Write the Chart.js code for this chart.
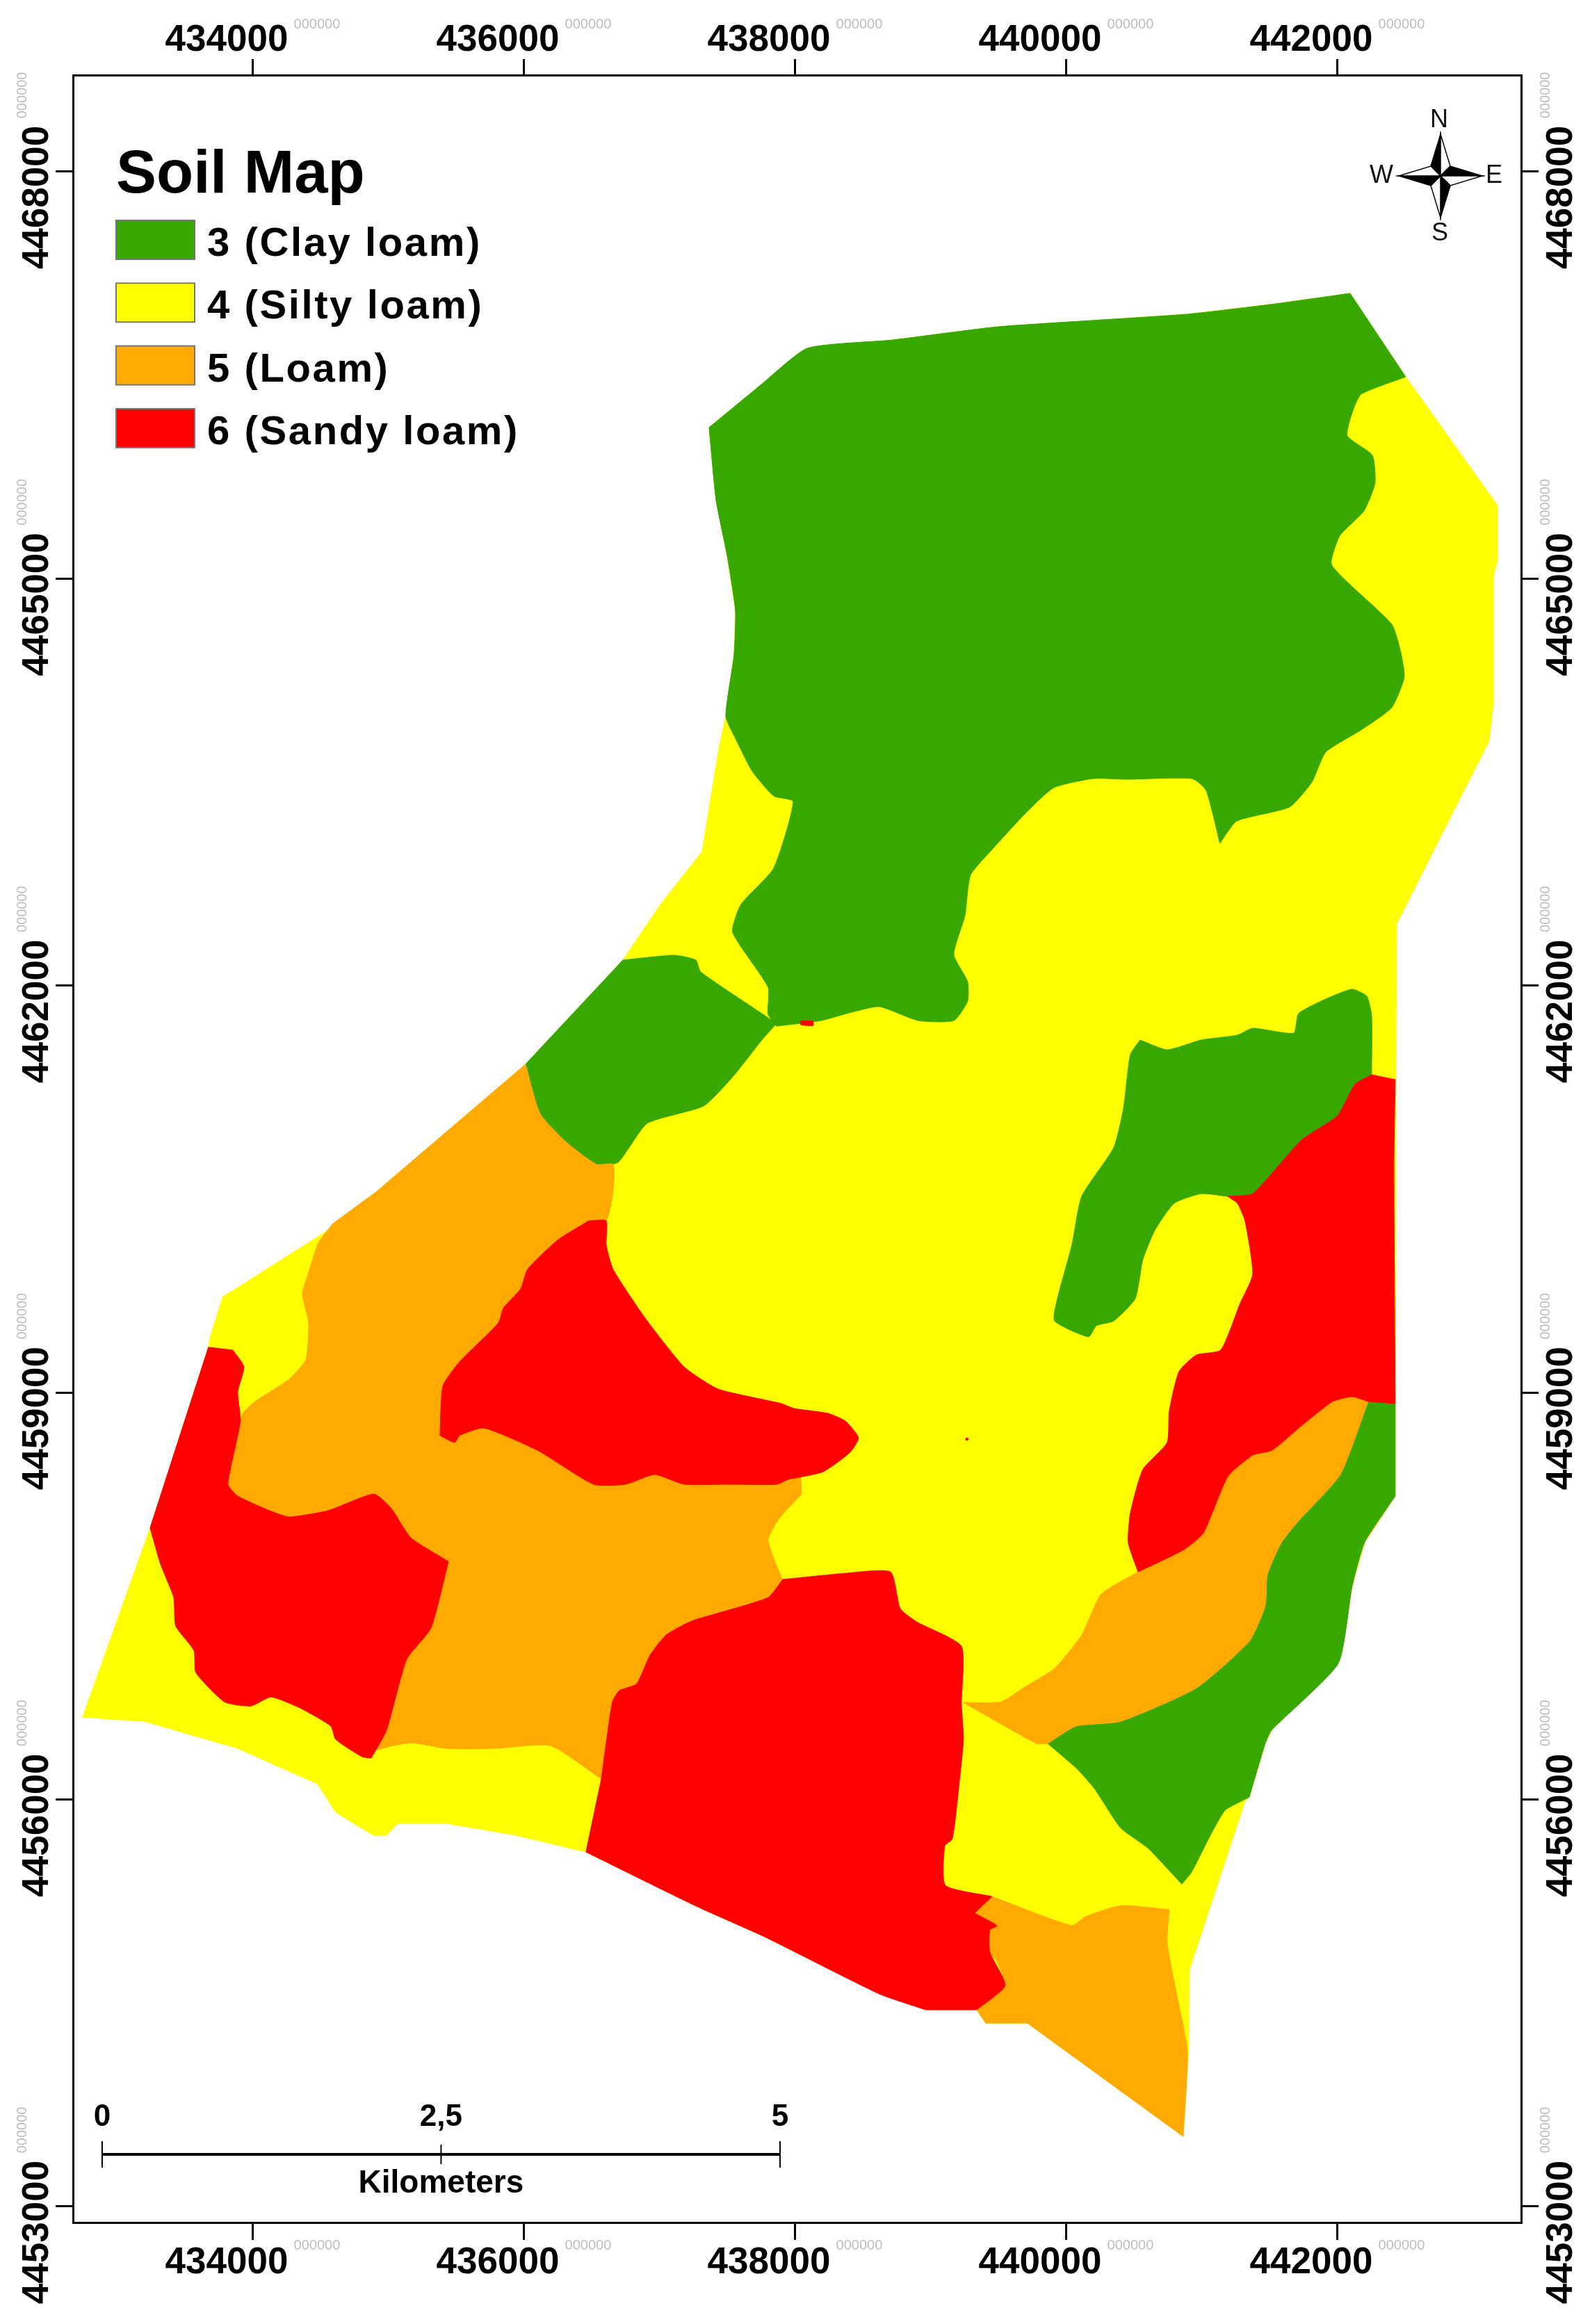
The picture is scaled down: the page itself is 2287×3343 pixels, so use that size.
<!DOCTYPE html>
<html>
<head>
<meta charset="utf-8">
<title>Soil Map</title>
<script src="https://cdn.jsdelivr.net/npm/chart.js@4/dist/chart.umd.js"></script>
<style>
    html, body { margin: 0; padding: 0; background: #fff; }
    #wrap { width: 2287px; height: 3343px; position: relative; }
</style>
</head>
<body>
<div id="wrap"><canvas id="soilMap" width="2287" height="3343"></canvas></div>
<script>
// Soil classes
const soilLabels = ['3 (Clay loam)', '4 (Silty loam)', '5 (Loam)', '6 (Sandy loam)'];
const soilColors = ['#38A800', '#FFFF00', '#FFAA00', '#FF0000'];

// Axis ticks (UTM metres)
const eastingTicks = [434000, 436000, 438000, 440000, 442000];
const northingTicks = [4453000, 4456000, 4459000, 4462000, 4465000, 4468000];
const eastingRange = [432672, 443354];
const northingRange = [4452882, 4468712];
const tickSuffix = '000000';

// Scale bar
const scaleBarKm = [0, 2.5, 5];
const scaleBarLabels = ['0', '2,5', '5'];
const scaleBarStart = 432887;

// Zone outlines, [easting, northing]
const studyArea = [[442092,4467103],[442502,4466488],[443179,4465540],[443179,4465130],[443148,4465012],[443148,4464069],[443117,4463803],[442435,4462455],[442430,4461312],[442425,4458934],[442425,4458237],[442199,4457894],[442107,4457571],[442004,4457002],[441512,4456510],[441466,4456413],[441348,4456018],[441317,4455987],[441122,4455398],[440907,4454747],[440902,4454158],[440861,4453517],[439712,4454352],[439405,4454352],[439338,4454450],[438963,4454450],[438620,4454567],[437774,4454988],[437261,4455218],[436456,4455613],[435917,4455741],[435425,4455823],[435066,4455823],[434984,4455736],[434887,4455736],[434610,4455905],[434476,4456115],[433887,4456377],[433200,4456576],[432743,4456607],[433241,4458001],[433671,4459334],[433687,4459421],[433779,4459708],[433871,4459764],[434518,4460174],[434912,4460482],[436010,4461420],[436728,4462188],[437005,4462598],[437312,4462988],[437435,4463741],[437487,4463987],[437548,4464438],[437558,4464766],[437497,4465171],[437415,4465581],[437364,4466114],[437738,4466422],[438087,4466698],[438722,4466760],[439497,4466857],[440887,4466949],[441543,4467026]];

const clayNorth = [[442092,4467103],[442502,4466488],[442174,4466360],[442112,4466237],[442071,4466053],[442256,4465909],[442276,4465704],[442194,4465499],[442015,4465315],[441953,4465110],[442076,4464971],[442399,4464664],[442461,4464479],[442492,4464274],[442399,4464049],[442174,4463885],[441912,4463721],[441810,4463500],[441645,4463316],[441256,4463213],[441132,4463049],[441030,4463439],[440927,4463526],[440440,4463521],[440194,4463526],[439907,4463459],[439702,4463275],[439456,4463008],[439292,4462814],[439251,4462516],[439169,4462229],[439271,4462029],[439271,4461886],[439169,4461742],[438907,4461742],[438620,4461845],[438415,4461804],[438189,4461742],[437861,4461701],[437799,4461789],[437799,4461988],[437538,4462393],[437599,4462598],[437840,4462865],[437984,4463357],[437840,4463398],[437681,4463582],[437558,4463823],[437487,4463987],[437548,4464438],[437558,4464766],[437497,4465171],[437415,4465581],[437364,4466114],[437738,4466422],[438087,4466698],[438722,4466760],[439497,4466857],[440887,4466949],[441543,4467026]];

const clayWest = [[436728,4462188],[437107,4462224],[437266,4462188],[437302,4462101],[437753,4461794],[437861,4461720],[437753,4461599],[437538,4461327],[437323,4461112],[436907,4460984],[436692,4460697],[436533,4460682],[436317,4460840],[436117,4461056],[436010,4461420]];

const clayEast = [[440543,4461599],[440743,4461527],[440994,4461599],[441261,4461635],[441374,4461686],[441676,4461650],[441712,4461794],[441912,4461901],[442107,4461973],[442215,4461922],[442251,4461778],[442251,4461343],[442127,4461271],[441999,4461040],[441733,4460861],[441374,4460466],[441189,4460446],[440994,4460466],[440794,4460395],[440651,4460195],[440563,4459979],[440507,4459692],[440348,4459528],[440220,4459493],[440163,4459411],[439912,4459528],[439933,4459692],[440040,4460087],[440112,4460446],[440348,4460805],[440420,4461092],[440471,4461491]];

const claySouth = [[442225,4458934],[442425,4458919],[442425,4458237],[442199,4457894],[442107,4457571],[442004,4457002],[441512,4456510],[441466,4456413],[441348,4456018],[441317,4456002],[441169,4455920],[441056,4455726],[440922,4455464],[440851,4455377],[440727,4455510],[440599,4455644],[440399,4455792],[440204,4456084],[440071,4456233],[439861,4456413],[440071,4456541],[440399,4456576],[440958,4456822],[441348,4457166],[441466,4457427],[441481,4457653],[441579,4457883],[441697,4458037],[442020,4458396]];

const loamWest = [[436010,4461420],[436117,4461056],[436317,4460840],[436533,4460682],[436656,4460682],[436656,4460482],[436605,4460266],[436476,4460266],[436246,4460123],[436025,4459908],[435974,4459764],[435846,4459621],[435810,4459513],[435523,4459226],[435400,4459047],[435379,4458683],[435487,4458632],[435523,4458683],[435702,4458739],[436097,4458575],[436512,4458324],[436748,4458324],[436964,4458396],[437179,4458324],[437502,4458324],[437861,4458324],[438040,4458380],[438046,4458252],[437882,4458073],[437799,4457914],[437897,4457637],[437907,4457622],[437799,4457489],[437261,4457325],[437189,4457294],[437046,4457212],[436928,4457063],[436830,4456853],[436702,4456802],[436651,4456720],[436569,4456151],[436194,4456397],[435784,4456377],[435425,4456377],[435164,4456418],[434902,4456361],[434871,4456305],[434984,4456510],[435133,4457033],[435312,4457263],[435441,4457755],[435164,4457929],[435020,4458145],[434892,4458252],[434553,4458129],[434266,4458083],[434123,4458129],[433887,4458237],[433815,4458324],[433907,4458790],[433923,4458847],[434015,4458934],[434266,4459098],[434389,4459241],[434410,4459513],[434364,4459728],[434410,4459887],[434482,4460102],[434589,4460246],[434912,4460482]];

const loamStrip = [[442225,4458934],[442107,4458970],[441963,4458934],[441733,4458755],[441517,4458575],[441374,4458539],[441189,4458380],[441010,4457965],[440866,4457842],[440528,4457678],[440256,4457514],[440112,4457212],[439912,4456966],[439681,4456822],[439517,4456720],[439240,4456715],[439779,4456413],[439861,4456413],[440071,4456541],[440399,4456576],[440958,4456822],[441348,4457166],[441466,4457427],[441481,4457653],[441579,4457883],[441697,4458037],[442020,4458396]];

const loamSouth = [[439451,4455285],[440040,4455070],[440138,4455136],[440399,4455218],[440758,4455188],[440743,4454942],[440809,4454583],[440892,4454142],[440861,4453517],[439712,4454352],[439405,4454352],[439338,4454450],[439548,4454629],[439487,4454808],[439435,4454875],[439435,4455039],[439487,4455070],[439322,4455162]];

const sandyEast = [[442251,4461343],[442425,4461307],[442415,4460661],[442425,4458919],[442225,4458934],[442107,4458970],[441963,4458934],[441733,4458755],[441517,4458575],[441374,4458539],[441189,4458380],[441010,4457965],[440866,4457842],[440528,4457678],[440456,4457894],[440471,4458109],[440563,4458432],[440743,4458632],[440758,4458862],[440830,4459154],[440958,4459277],[441138,4459313],[441281,4459657],[441374,4459872],[441317,4460267],[441261,4460395],[441189,4460446],[441374,4460466],[441733,4460861],[441999,4461040],[442127,4461271]];

const sandySouth = [[437907,4457622],[438374,4457668],[438702,4457678],[438774,4457407],[438897,4457309],[439225,4457130],[439225,4456705],[439240,4456443],[439205,4456084],[439158,4455710],[439102,4455659],[439107,4455367],[439451,4455285],[439322,4455162],[439487,4455070],[439435,4455039],[439435,4454875],[439548,4454629],[439338,4454450],[438963,4454450],[438620,4454567],[437774,4454988],[437261,4455218],[436456,4455613],[436569,4456151],[436651,4456720],[436702,4456802],[436830,4456853],[436928,4457063],[437046,4457212],[437189,4457294],[437261,4457325],[437799,4457489]];

const sandyWest = [[433671,4459334],[433851,4459313],[433933,4459190],[433887,4459006],[433907,4458790],[433815,4458324],[433887,4458237],[434123,4458129],[434266,4458083],[434553,4458129],[434892,4458252],[435020,4458145],[435164,4457929],[435441,4457755],[435312,4457263],[435133,4457033],[434984,4456510],[434871,4456305],[434805,4456315],[434610,4456443],[434574,4456541],[434348,4456674],[434133,4456756],[433984,4456689],[433789,4456720],[433579,4456935],[433564,4457099],[433430,4457279],[433415,4457489],[433318,4457735],[433241,4458001]];

const sandyMiddle = [[436476,4460266],[436605,4460266],[436605,4460087],[436656,4459908],[436892,4459549],[437179,4459190],[437430,4459026],[437897,4458919],[437989,4458883],[438240,4458847],[438369,4458790],[438466,4458667],[438404,4458560],[438205,4458416],[437953,4458360],[437861,4458324],[437502,4458324],[437179,4458324],[436964,4458396],[436748,4458324],[436512,4458324],[436097,4458575],[435702,4458739],[435523,4458683],[435487,4458632],[435379,4458683],[435400,4459047],[435523,4459226],[435810,4459513],[435846,4459621],[435974,4459764],[436025,4459908],[436246,4460123]];

const sandySpeckNorth = [[438040,4461738],[438130,4461738],[438130,4461705],[438040,4461712]];
const sandySpeckCentre = [[439258,4458665],[439274,4458665],[439274,4458649],[439258,4458649]];

// Outline and the class index it is filled with, bottom layer first
const zoneOutlines = [studyArea, clayNorth, clayWest, clayEast, claySouth, loamWest, loamStrip, loamSouth, sandyEast, sandySouth, sandyWest, sandyMiddle, sandySpeckNorth, sandySpeckCentre];
const zoneClasses = [1, 0, 0, 0, 0, 2, 2, 2, 3, 3, 3, 3, 3, 3];

// Vertices where the boundary turns sharply and must not be rounded
const sharpVertices = ['442092,4467103', '442502,4466488', '437364,4466114', '437738,4466422', '441132,4463049', '437861,4461701', '437861,4461720', '436010,4461420', '436728,4462188', '442251,4461343', '442425,4461307', '442425,4458919', '442225,4458934', '442425,4458237', '441348,4456018', '441317,4456002', '440851,4455377', '439861,4456413', '439240,4456715', '440528,4457678', '441189,4460446', '440861,4453517', '439712,4454352', '439405,4454352', '439338,4454450', '439451,4455285', '439322,4455162', '438963,4454450', '436456,4455613', '437907,4457622', '436569,4456151', '434871,4456305', '433241,4458001', '433671,4459334', '433851,4459313', '434589,4460246', '434912,4460482', '435441,4457755', '435379,4458683', '438046,4458252', '438040,4458380', '440758,4455188'];

const FONT = '"Liberation Sans", Arial, sans-serif';

// A doubled vertex gets no curve through it
function withSharpCorners(outline) {
    const closed = outline.concat([outline[0]]);
    const points = [];
    closed.forEach(p => {
        points.push({ x: p[0], y: p[1] });
        if (sharpVertices.includes(p.join(','))) {
            points.push({ x: p[0], y: p[1] });
        }
    });
    return points;
}

// The frame stays put whatever the labels measure
function fixSize(prop, size) {
    return (scale) => { scale[prop] = size; };
}

function setTicks(values) {
    return (scale) => { scale.ticks = values.map(v => ({ value: v })); };
}

function axisOptions(position, range, values, size, tickLength, ticks) {
    return {
        type: 'linear',
        position: position,
        min: range[0],
        max: range[1],
        afterBuildTicks: setTicks(values),
        afterFit: fixSize(position === 'top' || position === 'bottom' ? 'height' : 'width', size),
        border: { display: true, color: '#000', width: 3 },
        grid: { drawOnChartArea: false, drawTicks: true, tickLength: tickLength, tickColor: '#000', lineWidth: 3 },
        ticks: Object.assign({
            autoSkip: false,
            color: '#000',
            font: { family: FONT, size: 53, weight: 'bold' },
            callback: v => String(v)
        }, ticks)
    };
}

// The faint suffix printed next to every coordinate label
const tickSuffixPlugin = {
    id: 'tickSuffix',
    afterDraw(chart) {
        const ctx = chart.ctx;
        const s = chart.scales;
        ctx.save();
        ctx.font = '20px ' + FONT;
        ctx.fillStyle = '#bdbdbd';
        ctx.textAlign = 'center';
        ctx.textBaseline = 'middle';
        eastingTicks.forEach(v => {
            const x = s.x.getPixelForValue(v) + 92;
            ctx.fillText(tickSuffix, x, 35);
            ctx.fillText(tickSuffix, x, 3230);
        });
        northingTicks.forEach(v => {
            const y = s.y.getPixelForValue(v) - 110;
            [32, 2223].forEach(x => {
                ctx.save();
                ctx.translate(x, y);
                ctx.rotate(-Math.PI / 2);
                ctx.fillText(tickSuffix, 0, 0);
                ctx.restore();
            });
        });
        ctx.restore();
    }
};

const soilLegendPlugin = {
    id: 'soilLegend',
    afterDraw(chart) {
        const ctx = chart.ctx;
        ctx.save();
        ctx.fillStyle = '#000';
        ctx.textAlign = 'left';
        ctx.textBaseline = 'alphabetic';
        ctx.font = 'bold 87px ' + FONT;
        ctx.fillText('Soil Map', 167, 277);
        ctx.font = 'bold 58px ' + FONT;
        ctx.letterSpacing = '2.6px';
        soilLabels.forEach((label, i) => {
            const top = 317 + i * 90.3;
            ctx.fillStyle = soilColors[i];
            ctx.fillRect(167, top, 113, 56);
            ctx.strokeStyle = '#777';
            ctx.lineWidth = 2;
            ctx.strokeRect(167, top, 113, 56);
            ctx.fillStyle = '#000';
            ctx.fillText(label, 298, top + 51);
        });
        ctx.restore();
    }
};

const scaleBarPlugin = {
    id: 'scaleBar',
    afterDraw(chart) {
        const ctx = chart.ctx;
        const xAt = km => chart.scales.x.getPixelForValue(scaleBarStart + km * 1000);
        const y = 3099;
        ctx.save();
        ctx.strokeStyle = '#000';
        ctx.lineWidth = 4;
        ctx.beginPath();
        ctx.moveTo(xAt(scaleBarKm[0]), y);
        ctx.lineTo(xAt(scaleBarKm[2]), y);
        ctx.stroke();
        ctx.lineWidth = 2;
        ctx.fillStyle = '#000';
        ctx.textAlign = 'center';
        ctx.textBaseline = 'middle';
        ctx.font = 'bold 44px ' + FONT;
        scaleBarKm.forEach((km, i) => {
            const half = i === 1 ? 14 : 19;
            ctx.beginPath();
            ctx.moveTo(xAt(km), y - half);
            ctx.lineTo(xAt(km), y + half);
            ctx.stroke();
            ctx.fillText(scaleBarLabels[i], xAt(km), 3046);
        });
        ctx.font = 'bold 46px ' + FONT;
        ctx.fillText('Kilometers', xAt(scaleBarKm[1]), 3141);
        ctx.restore();
    }
};

const compassPlugin = {
    id: 'compass',
    afterDraw(chart) {
        const ctx = chart.ctx;
        const cx = 2072;
        const cy = 253;
        const tip = 60;
        const waist = 14;
        ctx.save();
        ctx.translate(cx, cy);
        ctx.lineWidth = 1.5;
        ctx.strokeStyle = '#000';
        for (let i = 0; i < 4; i++) {
            ctx.save();
            ctx.rotate(i * Math.PI / 2);
            // dark half
            ctx.fillStyle = '#000';
            ctx.beginPath();
            ctx.moveTo(0, 0);
            ctx.lineTo(0, -tip);
            ctx.lineTo(-waist, -waist);
            ctx.closePath();
            ctx.fill();
            ctx.stroke();
            // light half
            ctx.fillStyle = '#fff';
            ctx.beginPath();
            ctx.moveTo(0, 0);
            ctx.lineTo(0, -tip);
            ctx.lineTo(waist, -waist);
            ctx.closePath();
            ctx.fill();
            ctx.stroke();
            ctx.restore();
        }
        ctx.restore();
        ctx.save();
        ctx.fillStyle = '#111';
        ctx.font = '36px ' + FONT;
        ctx.textAlign = 'center';
        ctx.textBaseline = 'middle';
        ctx.fillText('N', 2070, 173);
        ctx.fillText('S', 2071, 336);
        ctx.fillText('W', 1987, 253);
        ctx.fillText('E', 2149, 253);
        ctx.restore();
    }
};

const datasets = zoneOutlines.map((outline, i) => ({
    label: soilLabels[zoneClasses[i]],
    data: withSharpCorners(outline),
    showLine: true,
    fill: 'shape',
    // Zone edges are soft in the map, the study area keeps its corners
    tension: i === 0 ? 0 : 0.18,
    pointRadius: 0,
    borderWidth: 1,
    borderColor: soilColors[zoneClasses[i]],
    backgroundColor: soilColors[zoneClasses[i]],
    order: zoneOutlines.length - i
}));

new Chart(document.getElementById('soilMap').getContext('2d'), {
    type: 'scatter',
    data: { datasets: datasets },
    plugins: [tickSuffixPlugin, soilLegendPlugin, scaleBarPlugin, compassPlugin],
    options: {
        responsive: false,
        animation: false,
        events: [],
        layout: { padding: 0 },
        plugins: {
            legend: { display: false },
            title: { display: false },
            tooltip: { enabled: false }
        },
        scales: {
            x: axisOptions('bottom', eastingRange, eastingTicks, 146, 25, { labelOffset: -38, padding: 2, maxRotation: 0 }),
            xTop: axisOptions('top', eastingRange, eastingTicks, 108, 23, { labelOffset: -38, padding: -5, maxRotation: 0 }),
            y: axisOptions('left', northingRange, northingTicks, 105, 25, { labelOffset: 37, padding: -78, minRotation: 90, maxRotation: 90, crossAlign: 'center' }),
            yRight: axisOptions('right', northingRange, northingTicks, 99, 25, { labelOffset: 37, padding: -70, minRotation: 90, maxRotation: 90, crossAlign: 'center' })
        }
    }
});
</script>
</body>
</html>
